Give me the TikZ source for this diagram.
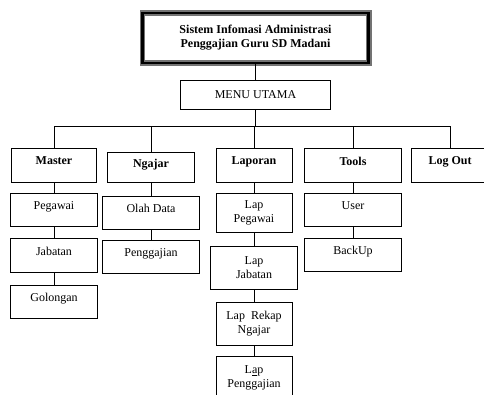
\documentclass[tikz,border=0pt]{standalone}
\usepackage{fontspec}
\setmainfont{Liberation Serif}
\begin{document}
\begin{tikzpicture}[x=0.75pt, y=-0.75pt, line width=0.6pt]
        \tikzstyle{every node}=[draw, line width=0.6pt, inner sep=1pt, align=center,
                                font=\fontsize{9}{10.5}\selectfont]
        \tikzstyle{head}=[font=\fontsize{9}{10.5}\selectfont\bfseries, minimum height=25.5pt, text depth=6pt]
        \tikzstyle{item}=[minimum height=24.75pt, text depth=6pt]
        \tikzstyle{item2}=[minimum height=32.25pt]

        \clip (0,0) rectangle (484,394);

        % judul dan menu utama
        \node (judul) [font=\fontsize{9}{10.5}\selectfont\bfseries, line width=2.2pt,
                       preaction={draw=black!55, line width=4pt},
                       minimum width=170pt, minimum height=37.5pt] at (255.5,38)
              {Sistem Infomasi Administrasi\\Penggajian Guru SD Madani};
        \node (menu) [minimum width=112.5pt, minimum height=21.75pt] at (255.5,94.5) {MENU UTAMA};

        % menu pilihan
        \node (master)  [head, minimum width=63.75pt] at (54,165)  {Master};
        \node (ngajar)  [head, minimum width=65.25pt, minimum height=22.5pt] at (151,167) {Ngajar};
        \node (laporan) [head, minimum width=57pt]    at (254,165) {Laporan};
        \node (tools)   [head, minimum width=72.75pt] at (353,165) {Tools};
        \node (logout)  [head, minimum width=58.5pt]  at (450,165) {Log Out};

        % sub menu
        \node (pegawai)  [item, minimum width=65.25pt] at (54,209.5) {Pegawai};
        \node (jabatan)  [item, minimum width=65.25pt, minimum height=25.5pt] at (54,255) {Jabatan};
        \node (golongan) [item, minimum width=65.25pt] at (54,301.5) {Golongan};

        \node (olahdata)   [item, minimum width=72.75pt] at (151,212.5) {Olah Data};
        \node (penggajian) [item, minimum width=72.75pt] at (151,256.5) {Penggajian};

        \node (lappegawai) [minimum width=57pt, minimum height=29.25pt] at (254,212.5) {Lap\\Pegawai};
        \node (lapjabatan) [item2, minimum width=65.25pt] at (254,267.5) {Lap\\Jabatan};
        \node (laprekap)   [item2, minimum width=57pt]    at (254,323.5) {Lap~ Rekap\\Ngajar};
        \node (lapgaji)    [item2, minimum width=57pt]    at (254,377.5) {L\underline{a}p\\Penggajian};

        \node (user)   [item, minimum width=72.75pt] at (353,209.5) {User};
        \node (backup) [item, minimum width=72.75pt] at (353,254.5) {BackUp};

        % garis penghubung
        \coordinate (busL) at (54,126);
        \coordinate (busR) at (450,126);

        \draw (judul) -- (menu);
        \draw (menu.south) -- (menu.south |- busL);
        \draw (busL) -- (busR);
        \foreach \n in {master, ngajar, laporan, tools, logout}
            \draw (\n.north |- busL) -- (\n.north);

        \path (master) edge (pegawai)
              (pegawai) edge (jabatan)
              (jabatan) edge (golongan)
              (ngajar) edge (olahdata)
              (olahdata) edge (penggajian)
              (laporan) edge (lappegawai)
              (lappegawai) edge (lapjabatan)
              (lapjabatan) edge (laprekap)
              (laprekap) edge (lapgaji)
              (tools) edge (user)
              (user) edge (backup);

    \end{tikzpicture}
\end{document}
